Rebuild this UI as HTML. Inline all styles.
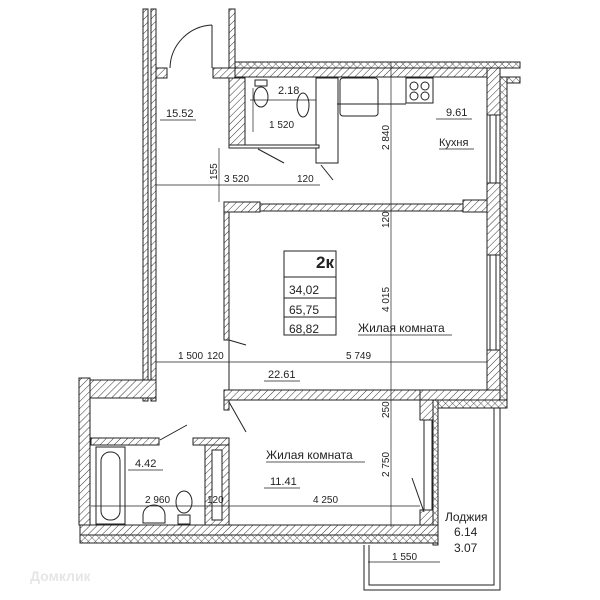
<!DOCTYPE html>
<html><head><meta charset="utf-8"><style>
html,body{margin:0;padding:0;background:#fff;}
svg{display:block;}
text{font-family:"Liberation Sans",sans-serif;fill:#222;}
</style></head><body>
<svg width="600" height="600" viewBox="0 0 600 600" xmlns="http://www.w3.org/2000/svg">
<defs>
<pattern id="h" width="5" height="5" patternUnits="userSpaceOnUse" patternTransform="rotate(45)">
<rect width="5" height="5" fill="#fff"/><line x1="0" y1="0" x2="0" y2="5" stroke="#333" stroke-width="1"/></pattern>
<pattern id="x" width="5" height="5" patternUnits="userSpaceOnUse" patternTransform="rotate(45)">
<rect width="5" height="5" fill="#fff"/><line x1="0" y1="0" x2="0" y2="5" stroke="#333" stroke-width="0.8"/><line x1="0" y1="0" x2="5" y2="0" stroke="#333" stroke-width="0.8"/></pattern>
</defs>
<g stroke="#222" stroke-width="1">
<!-- corridor walls -->
<rect x="143" y="9" width="5" height="392" fill="url(#h)"/>
<rect x="151" y="9" width="5" height="392" fill="url(#h)"/>
<rect x="229" y="9" width="6" height="60" fill="url(#h)"/>
<!-- entrance wall -->
<rect x="156" y="68" width="11" height="10" fill="url(#h)"/>
<rect x="213" y="68" width="22" height="10" fill="url(#h)"/>
<!-- top exterior wall -->
<rect x="235" y="62" width="285" height="6" fill="url(#x)"/>
<rect x="235" y="68" width="252" height="9" fill="url(#h)"/>
<rect x="487" y="68" width="13" height="340" fill="url(#h)"/>
<rect x="500" y="77" width="7" height="331" fill="url(#x)"/>
<rect x="507" y="77" width="13" height="6" fill="url(#x)"/>
<!-- windows on right -->
<rect x="487" y="115" width="13" height="68" fill="#fff"/>
<rect x="487" y="255" width="13" height="95" fill="#fff"/>
<line x1="490" y1="115" x2="490" y2="183"/><line x1="496" y1="115" x2="496" y2="183"/>
<line x1="490" y1="255" x2="490" y2="350"/><line x1="496" y1="255" x2="496" y2="350"/>
<!-- WC walls -->
<rect x="229" y="78" width="16" height="70" fill="url(#h)"/>
<rect x="316" y="78" width="22" height="85" fill="#fff"/>
<rect x="229" y="145" width="90" height="3" fill="#fff"/>
<line x1="245" y1="148" x2="316" y2="148"/>
<!-- wall hall/living -->
<rect x="224" y="202" width="36" height="10" fill="url(#h)"/>
<rect x="260" y="204" width="203" height="7" fill="url(#h)"/>
<rect x="463" y="200" width="24" height="12" fill="url(#h)"/>
<rect x="224" y="212" width="5" height="128" fill="url(#h)"/>
<!-- wall living/bedroom -->
<rect x="224" y="390" width="196" height="10" fill="url(#h)"/>
<rect x="420" y="390" width="80" height="10" fill="url(#h)"/>
<rect x="420" y="400" width="18" height="8" fill="url(#x)"/>
<rect x="438" y="400" width="69" height="8" fill="url(#x)"/>
<rect x="224" y="400" width="5" height="10" fill="url(#h)"/>
<!-- bedroom right wall -->
<rect x="420" y="400" width="13" height="20" fill="url(#h)"/>
<rect x="433" y="400" width="5" height="145" fill="url(#x)"/>
<line x1="424" y1="420" x2="424" y2="510"/><line x1="432" y1="420" x2="432" y2="510"/>
<rect x="420" y="510" width="13" height="15" fill="url(#h)"/>
<!-- bottom wall -->
<rect x="80" y="525" width="358" height="10" fill="url(#h)"/>
<rect x="80" y="535" width="358" height="8" fill="url(#x)"/>
<!-- loggia -->
<polyline points="364,545 364,590 500,590 500,408" fill="none"/>
<polyline points="369,545 369,585 494,585 494,408" fill="none"/>
<!-- lower bathroom area -->
<rect x="79" y="378" width="11" height="147" fill="url(#h)"/>
<rect x="90" y="380" width="66" height="18" fill="url(#h)"/>
<rect x="91" y="438" width="68" height="7" fill="url(#h)"/>
<rect x="193" y="438" width="36" height="7" fill="url(#h)"/>
<rect x="205" y="445" width="24" height="80" fill="url(#h)"/>
<rect x="212" y="450" width="10" height="70" fill="#fff"/>
<!-- bath -->
<rect x="96" y="447" width="29" height="77" fill="#fff"/>
<rect x="101" y="452" width="19" height="68" rx="9" fill="none"/>
<path d="M143 523 h22 v-8 a11 10 0 0 0 -22 0 z" fill="#fff"/>
<ellipse cx="184" cy="502" rx="8" ry="11" fill="#fff"/>
<rect x="178" y="515" width="12" height="9" fill="#fff"/>
<!-- WC fixtures -->
<rect x="255" y="80" width="12" height="6" fill="#fff"/>
<ellipse cx="261" cy="97" rx="7" ry="10" fill="#fff"/>
<ellipse cx="303" cy="105" rx="6" ry="12" fill="#fff"/>
<!-- kitchen -->
<rect x="340" y="78" width="38" height="38" rx="3" fill="#fff"/>
<rect x="406" y="78" width="27" height="25" fill="#fff"/>
<circle cx="414" cy="86" r="4" fill="none"/><circle cx="425" cy="86" r="4" fill="none"/>
<circle cx="414" cy="96" r="4" fill="none"/><circle cx="425" cy="96" r="4" fill="none"/>
<line x1="337" y1="104" x2="406" y2="104"/>
<!-- doors -->
<line x1="212" y1="25" x2="212" y2="68" />
<path d="M212 25 A44 44 0 0 0 170 68" fill="none"/>
<line x1="258" y1="149" x2="284" y2="163"/>
<line x1="321" y1="165" x2="333" y2="180"/>
<line x1="229" y1="340" x2="246" y2="345"/><line x1="229" y1="340" x2="229" y2="390"/>
<line x1="229" y1="402" x2="246" y2="432"/>
<line x1="160" y1="440" x2="187" y2="425"/>
<line x1="412" y1="478" x2="424" y2="512"/>
<!-- dimension lines -->
<line x1="391" y1="62" x2="391" y2="527" stroke-width="0.7"/>
<line x1="156" y1="185" x2="320" y2="185" stroke-width="0.7"/>
<line x1="219" y1="148" x2="219" y2="202" stroke-width="0.7"/>
<line x1="156" y1="362" x2="487" y2="362" stroke-width="0.7"/>
<line x1="91" y1="506" x2="420" y2="506" stroke-width="0.7"/>
<line x1="368" y1="562" x2="440" y2="562" stroke-width="0.7"/>
<line x1="250" y1="100" x2="316" y2="100" stroke-width="0.7"/>
<line x1="253" y1="88" x2="253" y2="132" stroke-width="0.7"/>
<!-- info box -->
<rect x="284" y="251" width="52" height="84" fill="#fff"/>
<line x1="284" y1="277" x2="336" y2="277"/>
<line x1="284" y1="298" x2="336" y2="298"/>
<line x1="284" y1="317" x2="336" y2="317"/>
<!-- underlines -->
<line x1="160" y1="120" x2="196" y2="120" stroke-width="0.7"/>
<line x1="436" y1="119" x2="472" y2="119" stroke-width="0.7"/>
<line x1="439" y1="149" x2="474" y2="149" stroke-width="0.7"/>
<line x1="358" y1="335" x2="452" y2="335" stroke-width="0.7"/>
<line x1="264" y1="381" x2="300" y2="381" stroke-width="0.7"/>
<line x1="266" y1="462" x2="365" y2="462" stroke-width="0.7"/>
<line x1="264" y1="488" x2="300" y2="488" stroke-width="0.7"/>
<line x1="128" y1="470" x2="163" y2="470" stroke-width="0.7"/>
</g>
<g font-size="11">
<text x="166" y="117">15.52</text>
<text x="278" y="94">2.18</text>
<text x="269" y="128" font-size="10">1 520</text>
<text x="446" y="116">9.61</text>
<text x="439" y="146">Кухня</text>
<text x="224" y="182" font-size="10">3 520</text>
<text x="297" y="182" font-size="10">120</text>
<text x="316" y="268" font-size="17" font-weight="bold">2к</text>
<text x="289" y="294" font-size="12">34,02</text>
<text x="289" y="314" font-size="12">65,75</text>
<text x="289" y="333" font-size="12">68,82</text>
<text x="358" y="332" font-size="12">Жилая комната</text>
<text x="178" y="359" font-size="10">1 500</text>
<text x="207" y="359" font-size="10">120</text>
<text x="346" y="359" font-size="10">5 749</text>
<text x="268" y="378">22.61</text>
<text x="266" y="459" font-size="12">Жилая комната</text>
<text x="270" y="485">11.41</text>
<text x="135" y="467">4.42</text>
<text x="145" y="503" font-size="10">2 960</text>
<text x="207" y="503" font-size="10">120</text>
<text x="313" y="503" font-size="10">4 250</text>
<text x="445" y="521" font-size="12">Лоджия</text>
<text x="454" y="536" font-size="12">6.14</text>
<text x="454" y="552" font-size="12" fill="#555">3.07</text>
<text x="392" y="560" font-size="10">1 550</text>
<text x="30" y="581" font-size="14" font-weight="bold" fill="#e8e8e8" style="fill:#e6e6e6">Домклик</text>
<g font-size="10">
<text transform="translate(389,150) rotate(-90)">2 840</text>
<text transform="translate(389,228) rotate(-90)">120</text>
<text transform="translate(389,312) rotate(-90)">4 015</text>
<text transform="translate(389,418) rotate(-90)">250</text>
<text transform="translate(389,477) rotate(-90)">2 750</text>
<text transform="translate(217,180) rotate(-90)">155</text>
</g>
</g>
</svg>
</body></html>
